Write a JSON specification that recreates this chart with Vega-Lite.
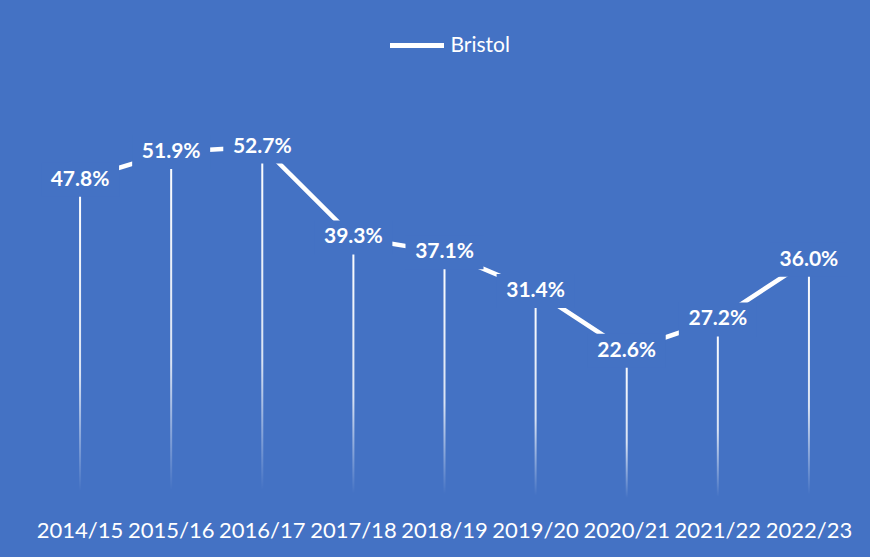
{
  "$schema": "https://vega.github.io/schema/vega-lite/v6.json",
  "width": 820,
  "height": 407,
  "autosize": {"type": "none"},
  "padding": {"left": 34.5, "top": 97, "right": 15.5, "bottom": 53},
  "background": "#4472C4",
  "config": {
    "view": {"stroke": null},
    "font": "Lato"
  },
  "data": {
    "values": [
      {"year": "2014/15", "value": 0.478, "series": "Bristol"},
      {"year": "2015/16", "value": 0.519, "series": "Bristol"},
      {"year": "2016/17", "value": 0.527, "series": "Bristol"},
      {"year": "2017/18", "value": 0.393, "series": "Bristol"},
      {"year": "2018/19", "value": 0.371, "series": "Bristol"},
      {"year": "2019/20", "value": 0.314, "series": "Bristol"},
      {"year": "2020/21", "value": 0.226, "series": "Bristol"},
      {"year": "2021/22", "value": 0.272, "series": "Bristol"},
      {"year": "2022/23", "value": 0.360, "series": "Bristol"}
    ]
  },
  "encoding": {
    "x": {
      "field": "year",
      "type": "nominal",
      "sort": null,
      "scale": {"type": "band", "paddingInner": 0, "paddingOuter": 0},
      "axis": {
        "title": null,
        "domain": false,
        "ticks": false,
        "grid": false,
        "labelAngle": 0,
        "labelColor": "#FFFFFF",
        "labelFont": "Lato",
        "labelFontSize": 22,
        "labelPadding": 16
      }
    },
    "y": {
      "field": "value",
      "type": "quantitative",
      "scale": {"domain": [0, 0.6], "nice": false, "zero": true},
      "axis": null
    }
  },
  "layer": [
    {
      "mark": {
        "type": "bar",
        "size": 2,
        "color": {
          "gradient": "linear",
          "x1": 0, "y1": 0, "x2": 0, "y2": 1,
          "stops": [
            {"offset": 0, "color": "rgba(255,255,255,1)"},
            {"offset": 0.6, "color": "rgba(255,255,255,0.8)"},
            {"offset": 0.96, "color": "rgba(255,255,255,0)"},
            {"offset": 1, "color": "rgba(255,255,255,0)"}
          ]
        }
      }
    },
    {
      "mark": {"type": "line", "strokeWidth": 4.5, "strokeCap": "butt"},
      "encoding": {
        "color": {
          "field": "series",
          "type": "nominal",
          "scale": {"range": ["#FFFFFF"]},
          "legend": {
            "title": null,
            "orient": "none",
            "legendX": 353,
            "legendY": -81,
            "symbolType": "stroke",
            "symbolSize": 2916,
            "symbolStrokeWidth": 5,
            "symbolStrokeColor": "#FFFFFF",
            "labelColor": "#FFFFFF",
            "labelFont": "Lato",
            "labelFontSize": 21,
            "labelOffset": 4
          }
        }
      }
    },
    {
      "mark": {
        "type": "point",
        "shape": "M-1,-0.436H1V0.436H-1Z",
        "size": 6084,
        "filled": true,
        "fill": "#4472C4",
        "opacity": 1,
        "strokeWidth": 0
      }
    },
    {
      "mark": {
        "type": "text",
        "color": "#FFFFFF",
        "font": "Lato",
        "fontSize": 21,
        "fontWeight": "bold",
        "baseline": "middle",
        "align": "center"
      },
      "encoding": {
        "text": {"field": "value", "type": "quantitative", "format": ".1%"}
      }
    }
  ]
}
